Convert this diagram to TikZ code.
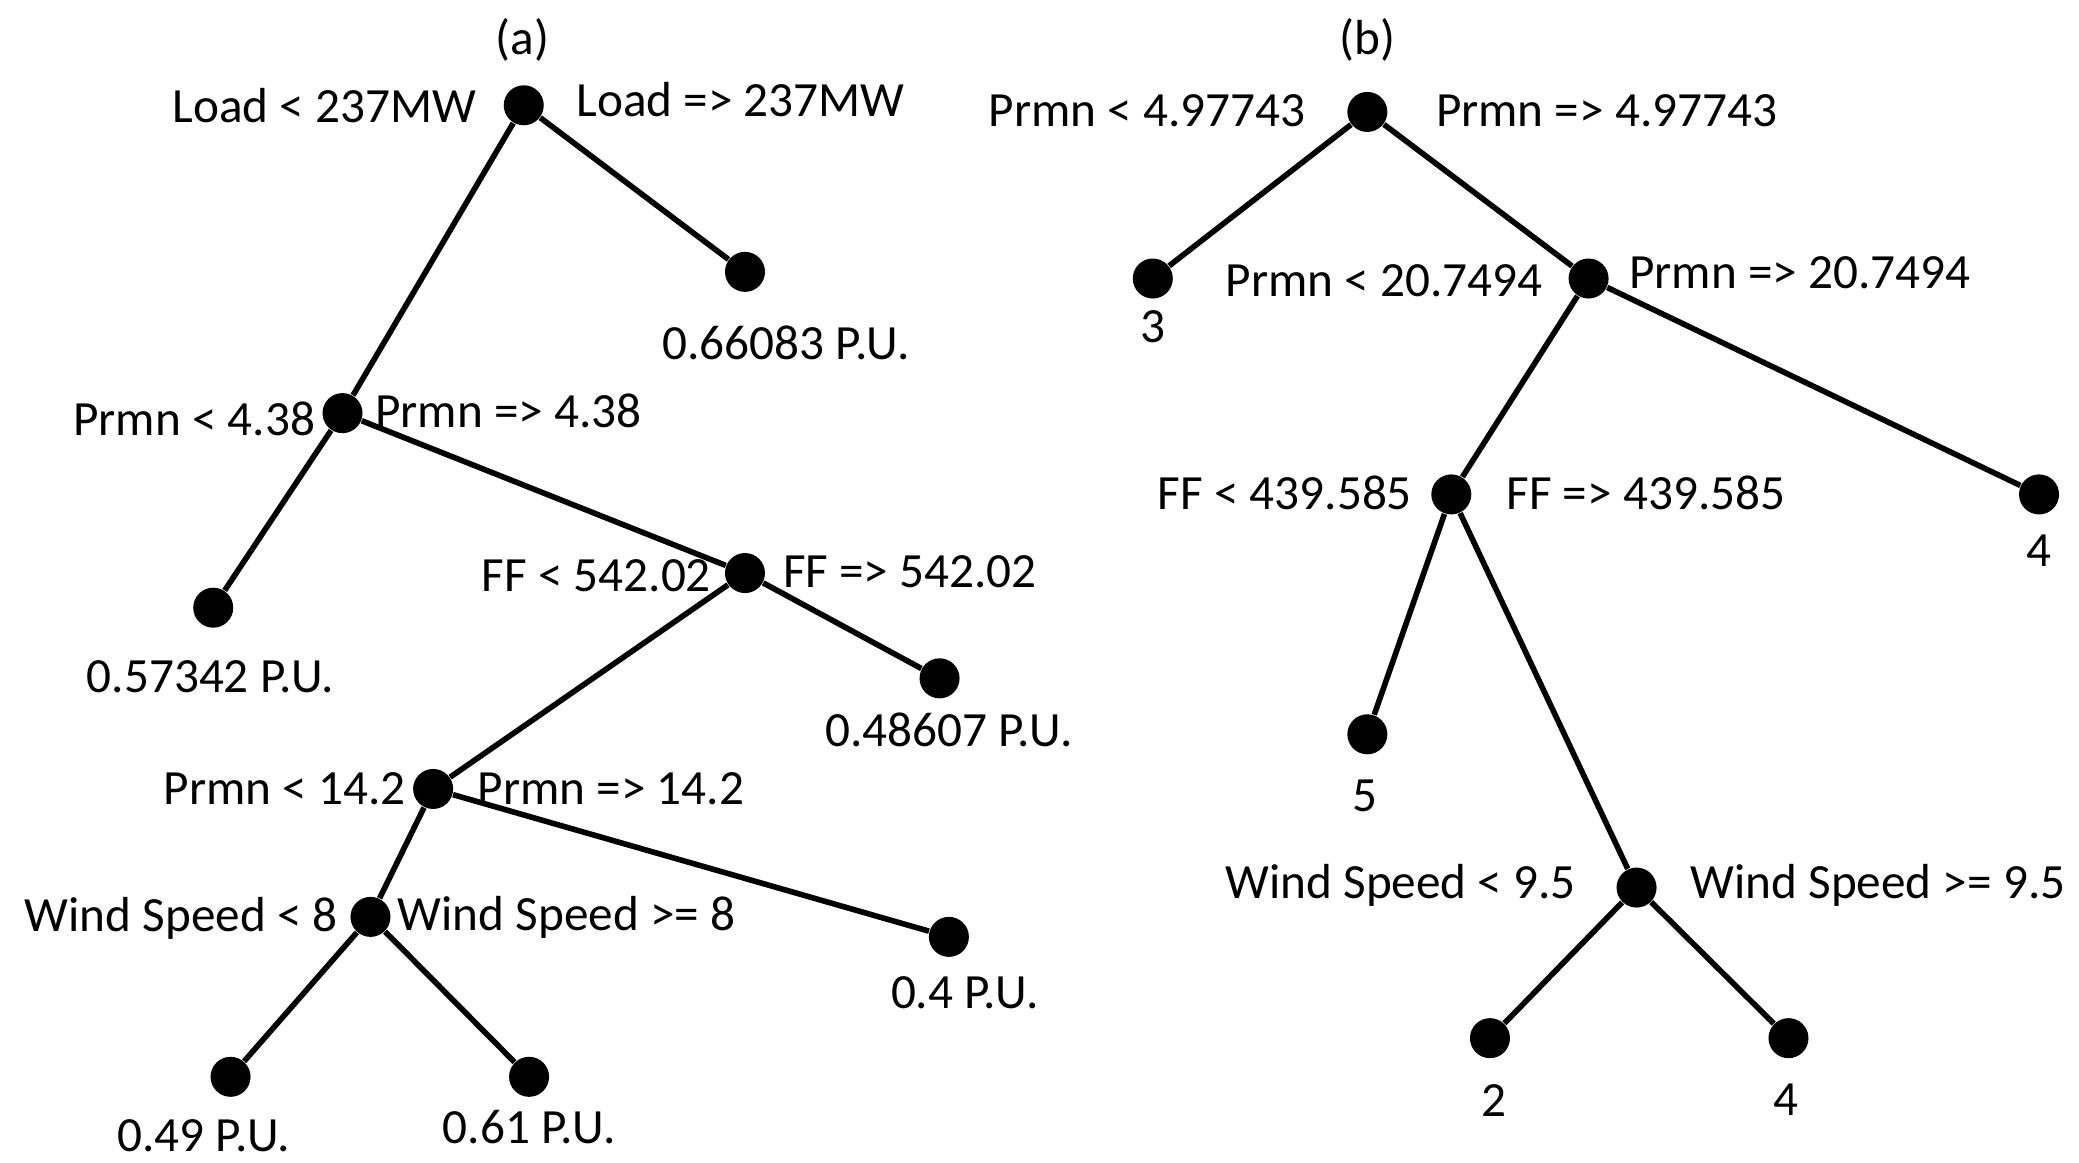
\documentclass[tikz,border=0pt]{standalone}
\usepackage{fontspec}
\setmainfont{Carlito}
\begin{document}
\begin{tikzpicture}[x=0.013327cm,y=-0.013327cm,
  dot/.style={circle,fill=black,inner sep=0pt,minimum size=0.4cm},
  e/.style={line width=1.6pt},
  t/.style={font=\fontsize{14}{16}\selectfont,inner sep=0pt},
  L/.style={t,anchor=east},R/.style={t,anchor=west}]
\useasboundingbox (0,0) rectangle (1560,872);
\node[t] at (392,30) {(a)};
\node[t] at (1026,30) {(b)};
% tree a
\node[dot] (a0) at (393,79) {};
\node[dot] (a1) at (559,204) {};
\node[dot] (a2) at (257,310) {};
\node[dot] (a3) at (160,456) {};
\node[dot] (a4) at (559,430) {};
\node[dot] (a5) at (705,509) {};
\node[dot] (a6) at (325,592) {};
\node[dot] (a7) at (712,703) {};
\node[dot] (a8) at (278,688) {};
\node[dot] (a9) at (173,808) {};
\node[dot] (a10) at (397,808) {};
\draw[e] (a0)--(a1) (a0)--(a2) (a2)--(a3) (a2)--(a4) (a4)--(a5) (a4)--(a6) (a6)--(a7) (a6)--(a8) (a8)--(a9) (a8)--(a10);
\node[L] (la0) at (358,79) {Load < 237MW};
\node[R] (ra0) at (432,75) {Load => 237MW};
\node[t] (v1) at (590,257) {0.66083 P.U.};
\node[L] (la2) at (237,314) {Prmn < 4.38};
\node[R] (ra2) at (281,308) {Prmn => 4.38};
\node[t] (v3) at (158,508) {0.57342 P.U.};
\node[L] (la4) at (534,432) {FF < 542.02};
\node[R] (ra4) at (587,429) {FF => 542.02};
\node[t] (v5) at (712,548) {0.48607 P.U.};
\node[L] (la6) at (305,592) {Prmn < 14.2};
\node[R] (ra6) at (358,592) {Prmn => 14.2};
\node[t] (v7) at (724,745) {0.4 P.U.};
\node[L] (la8) at (254,689) {Wind Speed < 8};
\node[R] (ra8) at (298,688) {Wind Speed >= 8};
\node[t] (v9) at (153,852) {0.49 P.U.};
\node[t] (v10) at (397,846) {0.61 P.U.};
% tree b
\node[dot] (b0) at (1026,84) {};
\node[dot] (b1) at (865,209) {};
\node[dot] (b2) at (1192,209) {};
\node[dot] (b3) at (1530,371) {};
\node[dot] (b4) at (1089,371) {};
\node[dot] (b5) at (1026,551) {};
\node[dot] (b6) at (1228,666) {};
\node[dot] (b7) at (1118,779) {};
\node[dot] (b8) at (1342,779) {};
\draw[e] (b0)--(b1) (b0)--(b2) (b2)--(b3) (b2)--(b4) (b4)--(b5) (b4)--(b6) (b6)--(b7) (b6)--(b8);
\node[L] (lb0) at (980,83) {Prmn < 4.97743};
\node[R] (rb0) at (1077,83) {Prmn => 4.97743};
\node[t] (w1) at (865,245) {3};
\node[L] (lb2) at (1158,211) {Prmn < 20.7494};
\node[R] (rb2) at (1222,205) {Prmn => 20.7494};
\node[t] (w3) at (1530,413) {4};
\node[L] (lb4) at (1060,370) {FF < 439.585};
\node[R] (rb4) at (1130,370) {FF => 439.585};
\node[t] (w5) at (1024,597) {5};
\node[L] (lb6) at (1183,664) {Wind Speed < 9.5};
\node[R] (rb6) at (1268,664) {Wind Speed >= 9.5};
\node[t] (w7) at (1121,826) {2};
\node[t] (w8) at (1340,825) {4};
\end{tikzpicture}
\end{document}
